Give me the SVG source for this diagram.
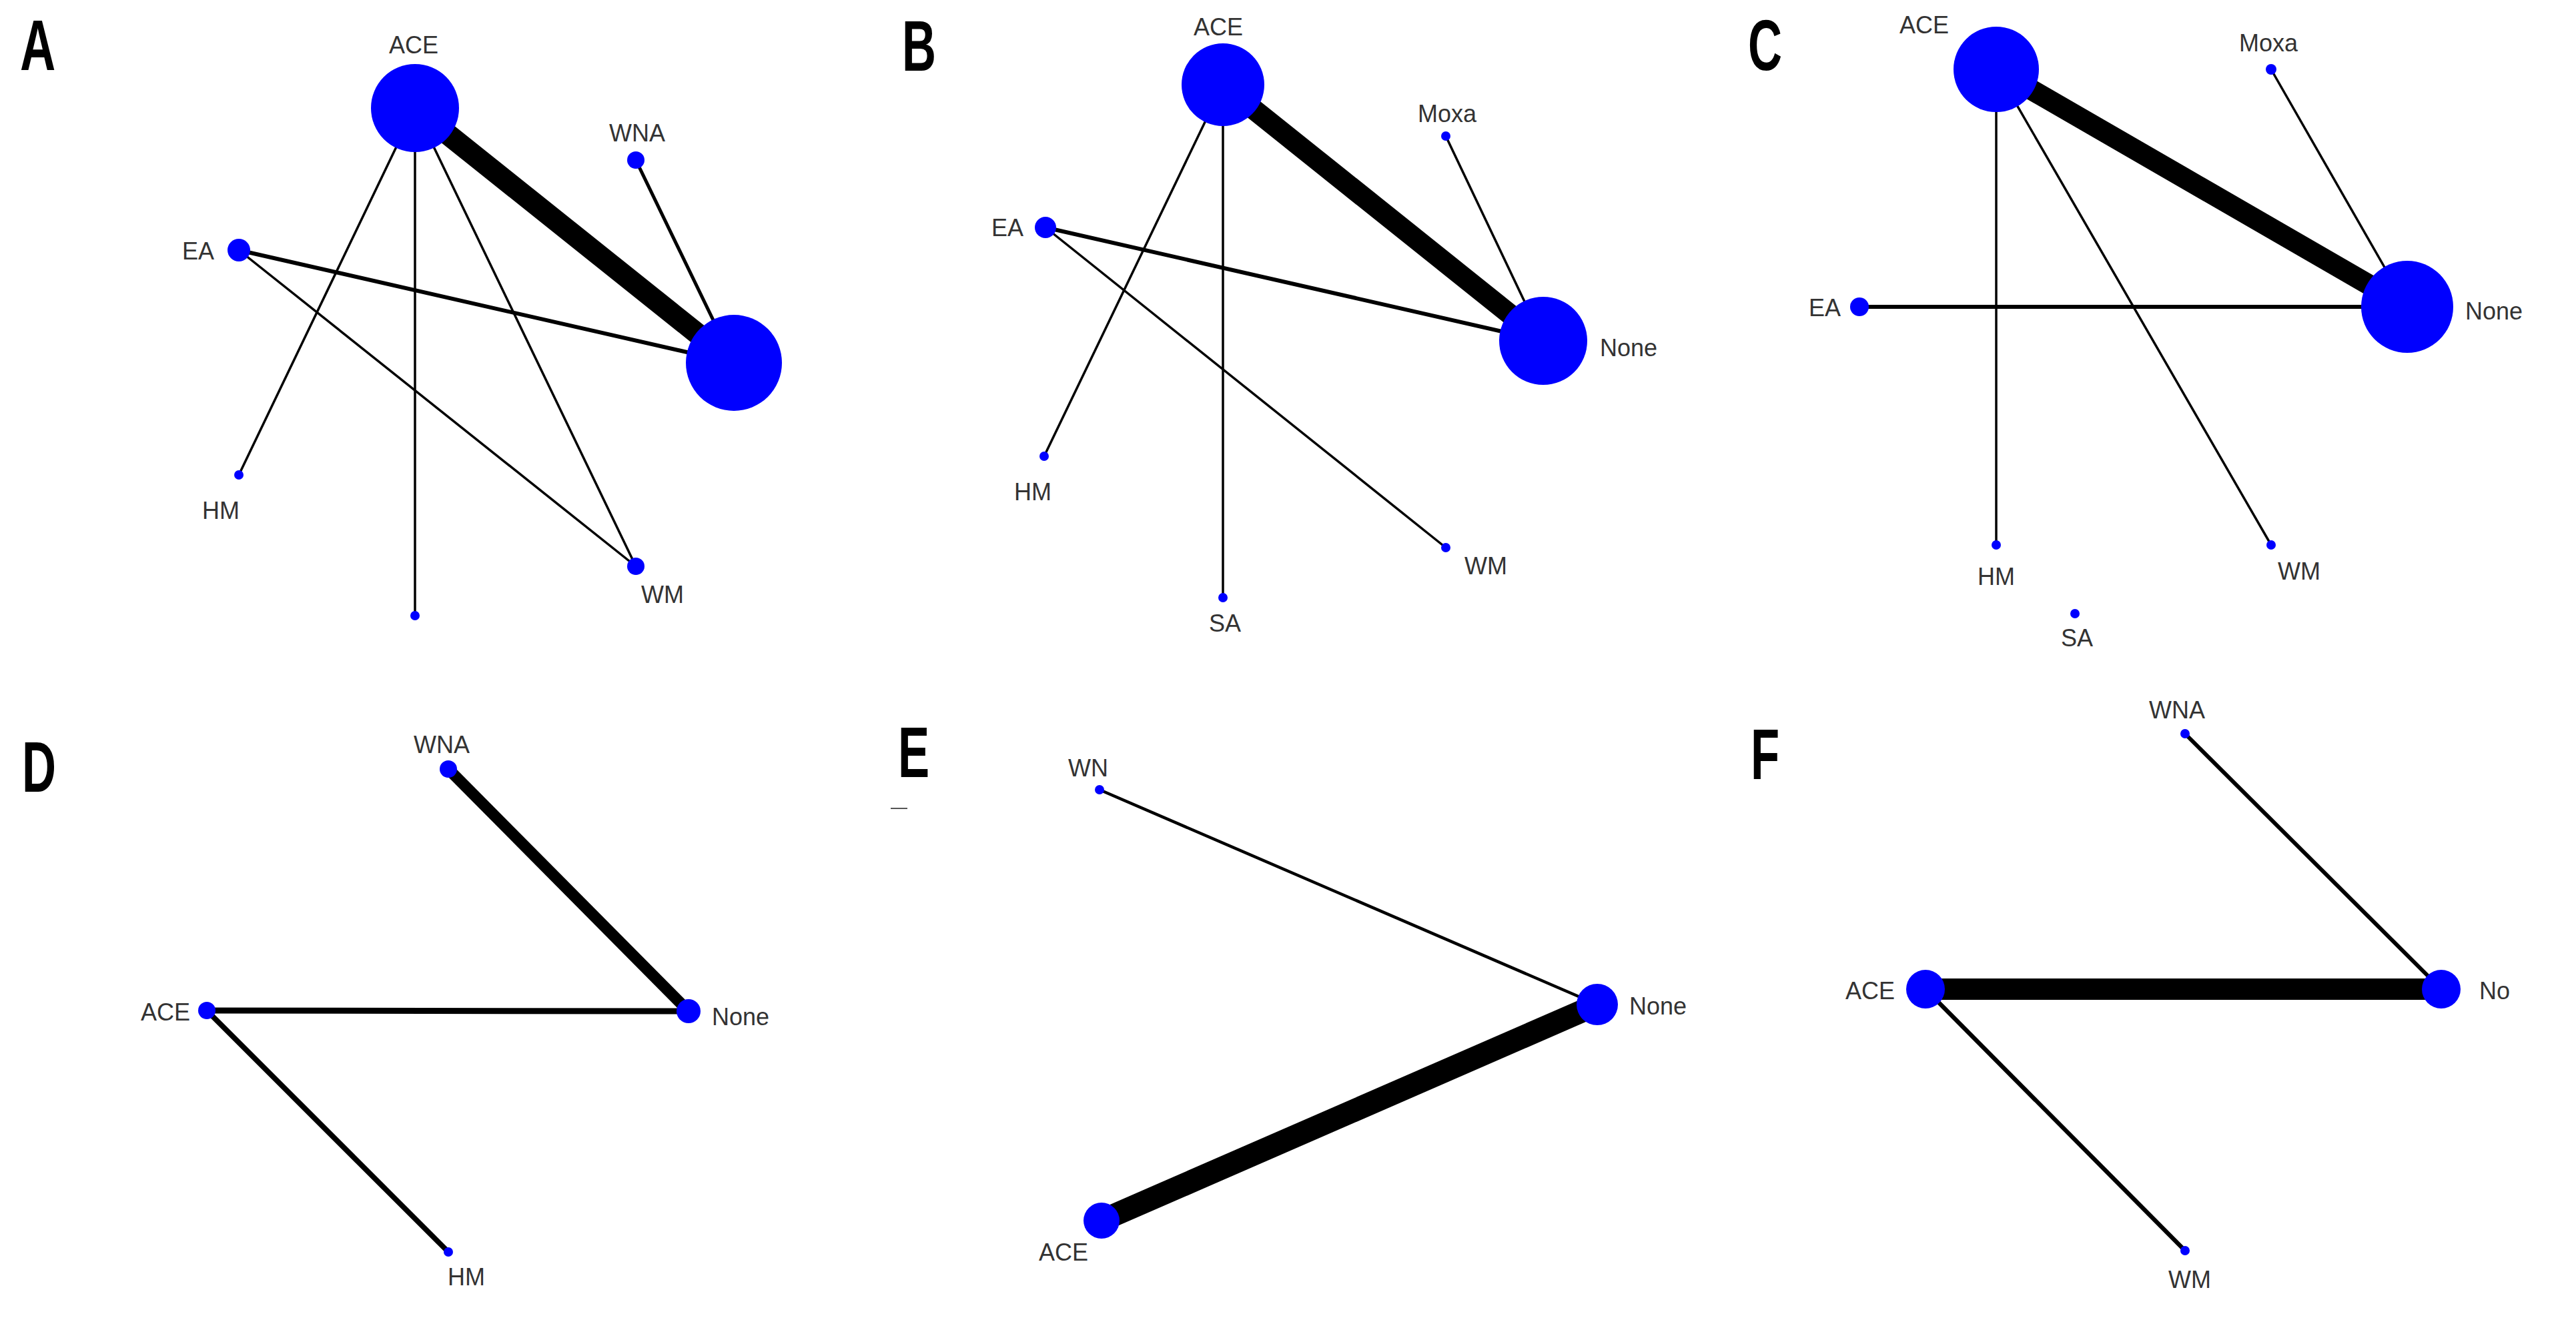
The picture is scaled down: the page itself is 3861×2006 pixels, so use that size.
<svg xmlns="http://www.w3.org/2000/svg" width="3861" height="2006" viewBox="0 0 3861 2006">
<style>
.bg{fill:#ffffff}
.n{fill:#0000ff}
.e{stroke:#000000;fill:none;stroke-linecap:butt}
.lb{font-family:"Liberation Sans",Arial,sans-serif;font-size:36px;fill:#333333}
.pl{font-family:"Liberation Sans",Arial,sans-serif;font-size:107px;font-weight:bold;fill:#000000}
.m{text-anchor:middle}
.r{text-anchor:end}
</style>
<rect class="bg" x="0" y="0" width="3861" height="2006"/>

<!-- Panel letters -->
<g id="panel-letters">
<text class="pl" transform="translate(30,105) scale(0.69,1)">A</text>
<text class="pl" transform="translate(1352,106) scale(0.66,1)">B</text>
<text class="pl" transform="translate(2620,105) scale(0.66,1)">C</text>
<text class="pl" transform="translate(33,1187) scale(0.66,1)">D</text>
<text class="pl" transform="translate(1346,1165) scale(0.66,1)">E</text>
<text class="pl" transform="translate(2624,1168) scale(0.66,1)">F</text>
<line x1="1335" y1="1212" x2="1360" y2="1212" stroke="#555555" stroke-width="2"/>
</g>

<!-- ===== Panel A ===== -->
<g id="A-connectors">
<line class="e" x1="622" y1="162" x2="1100" y2="544" stroke-width="32"/>
<line class="e" x1="953" y1="240" x2="1100" y2="544" stroke-width="5"/>
<line class="e" x1="358" y1="375" x2="1100" y2="544" stroke-width="6"/>
<line class="e" x1="622" y1="162" x2="358" y2="712" stroke-width="3.5"/>
<line class="e" x1="622" y1="162" x2="622" y2="923" stroke-width="3.5"/>
<line class="e" x1="622" y1="162" x2="953" y2="849" stroke-width="3.5"/>
<line class="e" x1="358" y1="375" x2="953" y2="849" stroke-width="3.5"/>
</g>
<g id="A-ACE"><circle class="n" cx="622" cy="162" r="66"/><text class="lb m" x="620" y="80">ACE</text></g>
<g id="A-WNA"><circle class="n" cx="953" cy="240" r="13"/><text class="lb m" x="955" y="212">WNA</text></g>
<g id="A-EA"><circle class="n" cx="358" cy="375" r="17"/><text class="lb r" x="321" y="389">EA</text></g>
<g id="A-None"><circle class="n" cx="1100" cy="544" r="72"/></g>
<g id="A-HM"><circle class="n" cx="358" cy="712" r="7"/><text class="lb m" x="331" y="778">HM</text></g>
<g id="A-WM"><circle class="n" cx="953" cy="849" r="13"/><text class="lb m" x="993" y="904">WM</text></g>
<g id="A-SA"><circle class="n" cx="622" cy="923" r="7"/></g>

<!-- ===== Panel B ===== -->
<g id="B-connectors">
<line class="e" x1="1833" y1="127" x2="2313" y2="511" stroke-width="31"/>
<line class="e" x1="1567" y1="341" x2="2313" y2="511" stroke-width="6"/>
<line class="e" x1="2167" y1="204" x2="2313" y2="511" stroke-width="3.5"/>
<line class="e" x1="1833" y1="127" x2="1565" y2="684" stroke-width="3.5"/>
<line class="e" x1="1833" y1="127" x2="1833" y2="896" stroke-width="3.5"/>
<line class="e" x1="1567" y1="341" x2="2167" y2="821" stroke-width="3.5"/>
</g>
<g id="B-ACE"><circle class="n" cx="1833" cy="127" r="62"/><text class="lb m" x="1826" y="53">ACE</text></g>
<g id="B-Moxa"><circle class="n" cx="2167" cy="204" r="7"/><text class="lb m" x="2169" y="183">Moxa</text></g>
<g id="B-EA"><circle class="n" cx="1567" cy="341" r="16"/><text class="lb r" x="1534" y="354">EA</text></g>
<g id="B-None"><circle class="n" cx="2313" cy="511" r="66"/><text class="lb" x="2398" y="534">None</text></g>
<g id="B-HM"><circle class="n" cx="1565" cy="684" r="7"/><text class="lb m" x="1548" y="750">HM</text></g>
<g id="B-WM"><circle class="n" cx="2167" cy="821" r="7"/><text class="lb m" x="2227" y="861">WM</text></g>
<g id="B-SA"><circle class="n" cx="1833" cy="896" r="7"/><text class="lb m" x="1836" y="947">SA</text></g>

<!-- ===== Panel C ===== -->
<g id="C-connectors">
<line class="e" x1="2992" y1="104" x2="3608" y2="460" stroke-width="31"/>
<line class="e" x1="2787" y1="460" x2="3608" y2="460" stroke-width="6"/>
<line class="e" x1="3404" y1="104" x2="3608" y2="460" stroke-width="3.5"/>
<line class="e" x1="2992" y1="104" x2="2992" y2="817" stroke-width="3.5"/>
<line class="e" x1="2992" y1="104" x2="3404" y2="817" stroke-width="3.5"/>
</g>
<g id="C-ACE"><circle class="n" cx="2992" cy="104" r="64"/><text class="lb m" x="2884" y="50">ACE</text></g>
<g id="C-Moxa"><circle class="n" cx="3404" cy="104" r="8"/><text class="lb m" x="3400" y="77">Moxa</text></g>
<g id="C-EA"><circle class="n" cx="2787" cy="460" r="14"/><text class="lb r" x="2759" y="474">EA</text></g>
<g id="C-None"><circle class="n" cx="3608" cy="460" r="69"/><text class="lb" x="3695" y="479">None</text></g>
<g id="C-HM"><circle class="n" cx="2992" cy="817" r="7"/><text class="lb m" x="2992" y="877">HM</text></g>
<g id="C-WM"><circle class="n" cx="3404" cy="817" r="7"/><text class="lb m" x="3446" y="869">WM</text></g>
<g id="C-SA"><circle class="n" cx="3110" cy="920" r="7"/><text class="lb m" x="3113" y="969">SA</text></g>

<!-- ===== Panel D ===== -->
<g id="D-connectors">
<line class="e" x1="672" y1="1153" x2="1032" y2="1516" stroke-width="17"/>
<line class="e" x1="310" y1="1515" x2="1032" y2="1516" stroke-width="9"/>
<line class="e" x1="310" y1="1515" x2="672" y2="1877" stroke-width="8"/>
</g>
<g id="D-WNA"><circle class="n" cx="672" cy="1153" r="13"/><text class="lb m" x="662" y="1129">WNA</text></g>
<g id="D-None"><circle class="n" cx="1032" cy="1516" r="18"/><text class="lb" x="1067" y="1537">None</text></g>
<g id="D-ACE"><circle class="n" cx="310" cy="1515" r="13"/><text class="lb r" x="285" y="1530">ACE</text></g>
<g id="D-HM"><circle class="n" cx="672" cy="1877" r="7"/><text class="lb m" x="699" y="1927">HM</text></g>

<!-- ===== Panel E ===== -->
<g id="E-connectors">
<line class="e" x1="1648" y1="1184" x2="2394" y2="1506" stroke-width="4.5"/>
<line class="e" x1="1651" y1="1830" x2="2394" y2="1506" stroke-width="34"/>
</g>
<g id="E-WN"><circle class="n" cx="1648" cy="1184" r="7"/><text class="lb m" x="1631" y="1164">WN</text></g>
<g id="E-None"><circle class="n" cx="2394" cy="1506" r="31"/><text class="lb" x="2442" y="1521">None</text></g>
<g id="E-ACE"><circle class="n" cx="1651" cy="1830" r="27"/><text class="lb m" x="1594" y="1890">ACE</text></g>

<!-- ===== Panel F ===== -->
<g id="F-connectors">
<line class="e" x1="2886" y1="1483" x2="3659" y2="1483" stroke-width="32"/>
<line class="e" x1="3275" y1="1100" x2="3659" y2="1483" stroke-width="6"/>
<line class="e" x1="2886" y1="1483" x2="3275" y2="1875" stroke-width="6.5"/>
</g>
<g id="F-WNA"><circle class="n" cx="3275" cy="1100" r="7"/><text class="lb m" x="3263" y="1077">WNA</text></g>
<g id="F-ACE"><circle class="n" cx="2886" cy="1483" r="29"/><text class="lb r" x="2840" y="1498">ACE</text></g>
<g id="F-No"><circle class="n" cx="3659" cy="1483" r="29"/><text class="lb" x="3716" y="1498">No</text></g>
<g id="F-WM"><circle class="n" cx="3275" cy="1875" r="7"/><text class="lb m" x="3282" y="1931">WM</text></g>
</svg>
